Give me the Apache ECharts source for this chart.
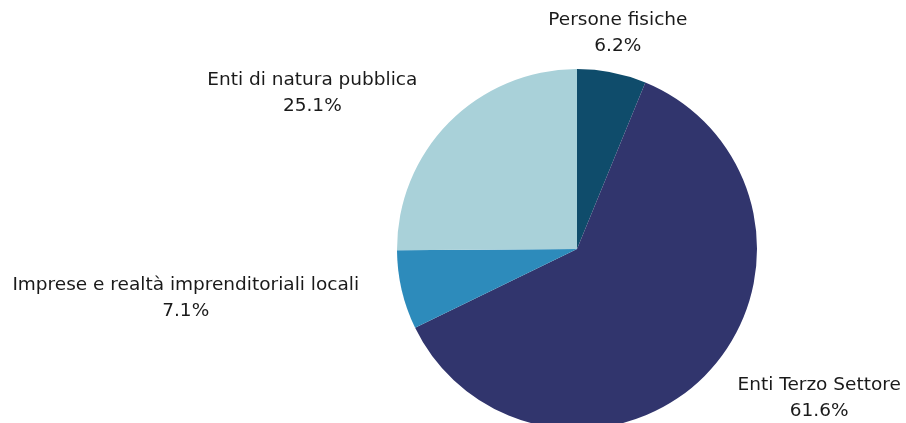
<!DOCTYPE html>
<html><head><meta charset="utf-8">
<script src="https://cdn.jsdelivr.net/npm/echarts@6/dist/echarts.min.js"></script>
<style>html,body{margin:0;padding:0;background:#fff}#c{width:906px;height:423px}</style>
</head><body><div id="c"></div>
<script>
const categories = ['Persone fisiche', 'Enti Terzo Settore', 'Imprese e realtà imprenditoriali locali', 'Enti di natura pubblica'];
const values = [6.2, 61.6, 7.1, 25.1];
const colors = ['#0f4c6b', '#31356d', '#2d8bbb', '#a9d1d9'];

// label placement style: offset of label centre from the slice's mid-point on the rim
const labelOffsets = [[6, -39], [111, 26], [-216, 8], [-137, -29]];
const CX = 577, CY = 249, R = 180;

const total = values.reduce((a, b) => a + b, 0);
const midAngles = [];
{ let acc = 0; values.forEach(v => { midAngles.push((acc + v / 2) / total * 2 * Math.PI); acc += v; }); }

const chart = echarts.init(document.getElementById('c'));
chart.setOption({
  animation: false,
  series: [{
    type: 'pie',
    center: [CX, CY],
    radius: R,
    startAngle: 90,
    clockwise: true,
    data: categories.map((n, i) => ({ name: n, value: values[i], itemStyle: { color: colors[i] } })),
    label: {
      show: true,
      position: 'outside',
      formatter: p => p.name + '\n' + p.value.toFixed(1) + '%',
      fontFamily: 'DejaVu Sans',
      fontSize: 18.5,
      lineHeight: 26,
      color: '#1a1a1a'
    },
    labelLine: { show: false, length: 20, length2: 0 },
    labelLayout: function (p) {
      const i = p.dataIndex, a = midAngles[i];
      const px = CX + R * Math.sin(a), py = CY - R * Math.cos(a);
      return { x: px + labelOffsets[i][0], y: py + labelOffsets[i][1], align: 'center', verticalAlign: 'middle' };
    }
  }]
});
</script></body></html>
